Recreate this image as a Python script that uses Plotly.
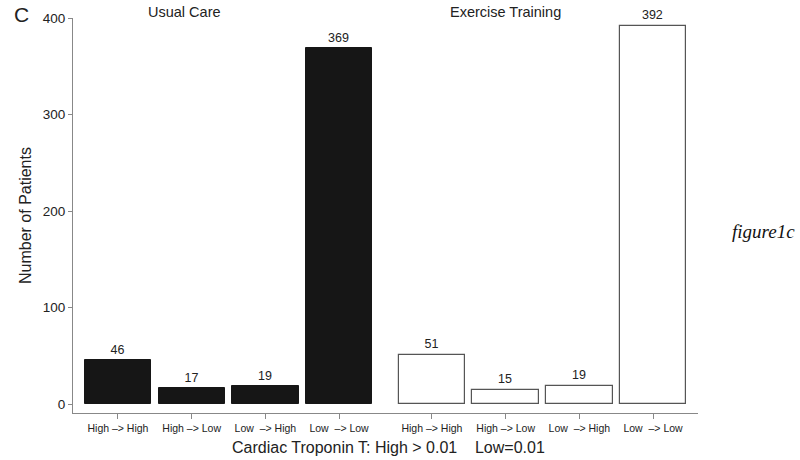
import plotly.graph_objects as go

categories = ["High \u2013> High", "High \u2013> Low", "Low \u00a0\u2013> High", "Low \u00a0\u2013> Low"]
usual_care = [46, 17, 19, 369]
exercise_training = [51, 15, 19, 392]
group_names = ["Usual Care", "Exercise Training"]
y_ticks = [0, 100, 200, 300, 400]

GAP = 0.26
x_usual = [i for i in range(len(categories))]
x_ex = [i + len(categories) + GAP for i in range(len(categories))]

fig = go.Figure()
fig.add_trace(go.Bar(
    x=x_usual, y=usual_care, width=0.9,
    marker=dict(color="#161616", line=dict(color="#161616", width=1)),
    text=[str(v) for v in usual_care], textposition="outside",
    outsidetextfont=dict(size=12.5, color="#222", family="Liberation Sans, Arial"),
    cliponaxis=False, showlegend=False,
))
fig.add_trace(go.Bar(
    x=x_ex, y=exercise_training, width=0.9,
    marker=dict(color="white", line=dict(color="#555", width=1.2)),
    text=[str(v) for v in exercise_training], textposition="outside",
    outsidetextfont=dict(size=12.5, color="#222", family="Liberation Sans, Arial"),
    cliponaxis=False, showlegend=False,
))

fig.update_layout(
    width=800, height=460,
    margin=dict(l=73, r=102, t=18, b=47, autoexpand=False),
    plot_bgcolor="white", paper_bgcolor="white",
    font=dict(family="Liberation Sans, Arial", color="#222"),
    bargap=0,
    xaxis=dict(
        range=[-0.61, 7.87],
        tickvals=x_usual + x_ex, ticktext=categories + categories,
        showline=True, linecolor="#888", linewidth=1,
        ticks="outside", ticklen=5, tickcolor="#888",
        tickfont=dict(size=10.5, color="#222"),
        showgrid=False, zeroline=False,
    ),
    yaxis=dict(
        range=[-9.3, 400],
        tickvals=y_ticks,
        showline=True, linecolor="#888", linewidth=1,
        ticks="outside", ticklen=4, tickcolor="#888",
        tickfont=dict(size=13.5, color="#222"),
        showgrid=False, zeroline=False,
    ),
)

fig.add_annotation(text="C", x=-0.083, y=1.01, xref="paper", yref="paper",
                   showarrow=False, font=dict(size=21, color="#222"),
                   xanchor="center", yanchor="middle")
fig.add_annotation(text=group_names[0], x=(x_usual[1] + x_usual[2]) / 2 - 0.6, y=1.015,
                   xref="x", yref="paper", showarrow=False,
                   font=dict(size=14.5, color="#222"), yanchor="middle")
fig.add_annotation(text=group_names[1], x=x_ex[1], y=1.015,
                   xref="x", yref="paper", showarrow=False,
                   font=dict(size=14.5, color="#222"), yanchor="middle")
fig.add_annotation(text="Cardiac Troponin T: High > 0.01\u00a0\u00a0\u00a0\u00a0Low=0.01",
                   x=0.5045, y=-0.0886, xref="paper", yref="paper", showarrow=False,
                   font=dict(size=16, color="#222"), yanchor="middle")
fig.add_annotation(text="Number of Patients", x=-0.076, y=0.5, xref="paper", yref="paper",
                   showarrow=False, textangle=-90,
                   font=dict(size=16, color="#222"), xanchor="center", yanchor="middle")
fig.add_annotation(text="<i>figure1c</i>", x=1.104, y=0.46, xref="paper", yref="paper",
                   showarrow=False,
                   font=dict(size=19, color="#111", family="Liberation Serif, DejaVu Serif, serif"),
                   xanchor="center", yanchor="middle")

fig.write_html("out.html", config={"displayModeBar": False},
               post_script="document.body.style.margin='0';")
